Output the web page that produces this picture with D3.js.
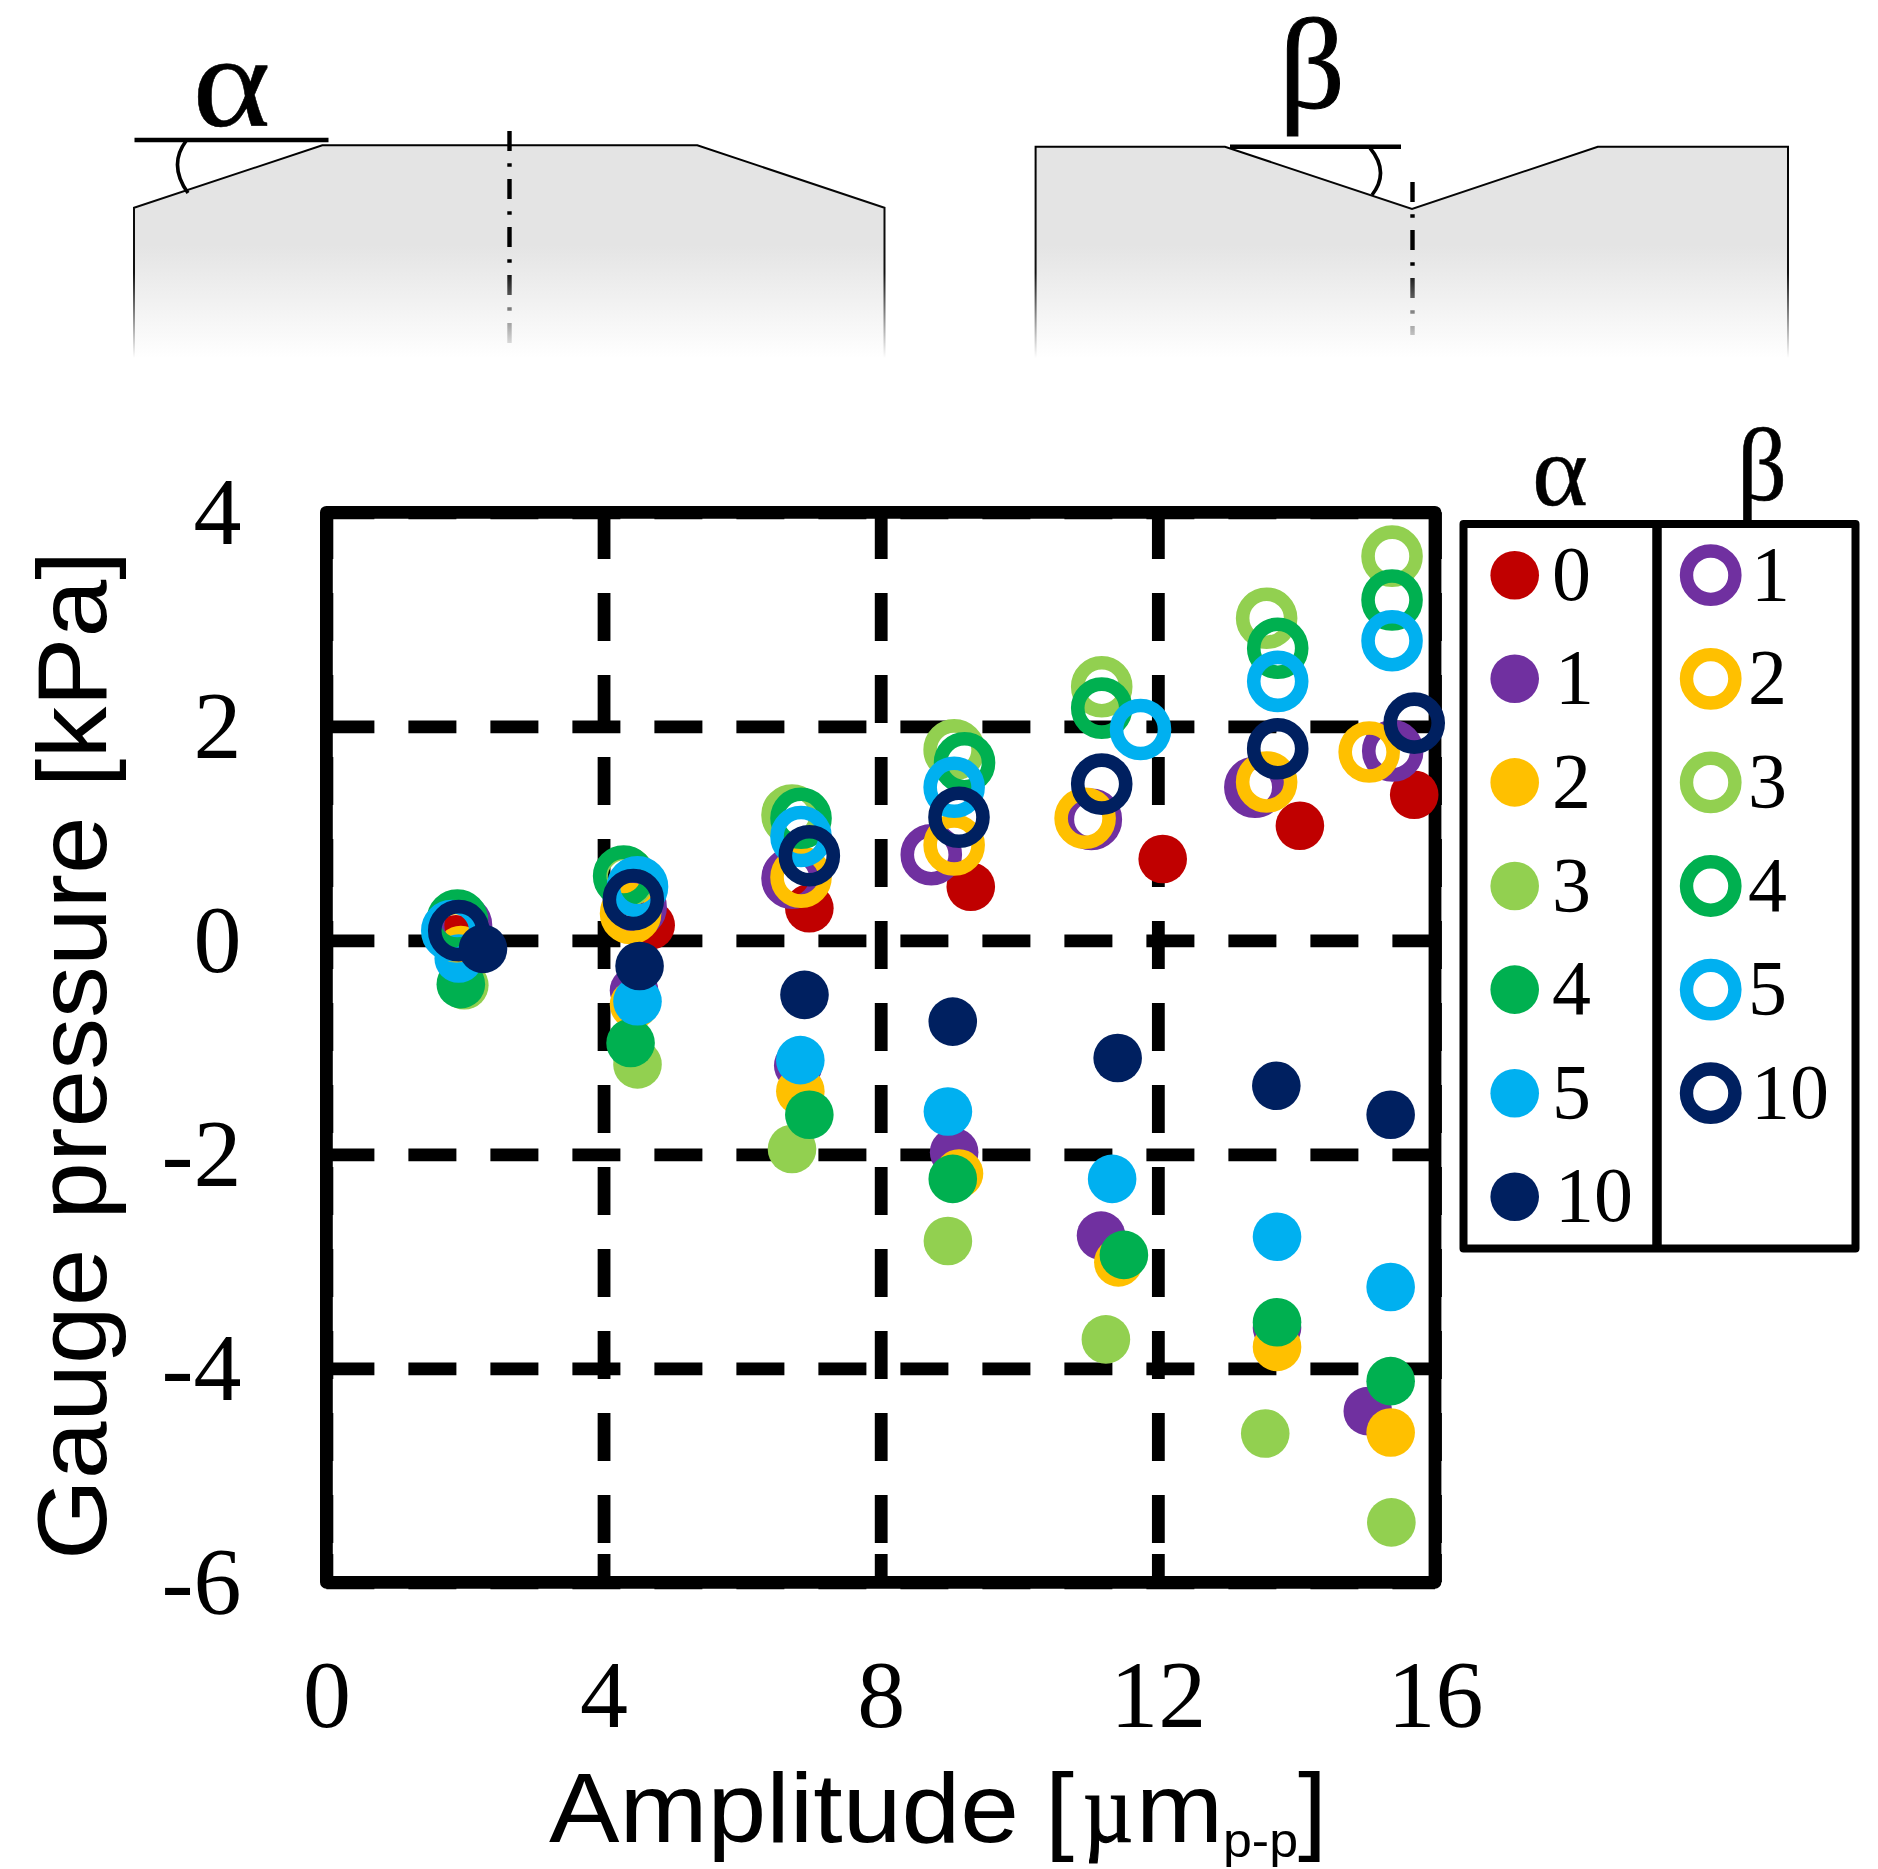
<!DOCTYPE html>
<html><head><meta charset="utf-8">
<script src="https://cdn.jsdelivr.net/npm/d3@7"></script>
<style>html,body{margin:0;padding:0;background:#fff}svg{display:block}</style>
</head><body><div id="chart"></div>
<script>
// ---- data ----
const xTickValues = [0, 4, 8, 12, 16];
const yTickValues = [4, 2, 0, -2, -4, -6];

const alpha0X  = [1.87, 4.68, 6.97, 9.30, 12.07, 14.05, 15.70];
const alpha0Y  = [0.01, 0.14, 0.30, 0.50, 0.76, 1.07, 1.36];
const alpha1X  = [1.97, 4.44, 6.81, 9.06, 11.18, 13.72, 15.03];
const alpha1Y  = [-0.10, -0.47, -1.17, -1.98, -2.76, -3.62, -4.40];
const alpha2X  = [1.94, 4.44, 6.84, 9.13, 11.43, 13.72, 15.36];
const alpha2Y  = [-0.09, -0.60, -1.41, -2.18, -3.01, -3.80, -4.60];
const alpha3X  = [1.99, 4.49, 6.72, 8.97, 11.25, 13.55, 15.37];
const alpha3Y  = [-0.42, -1.16, -1.95, -2.81, -3.73, -4.61, -5.44];
const alpha4X  = [1.94, 4.39, 6.97, 9.04, 11.51, 13.72, 15.36];
const alpha4Y  = [-0.41, -0.96, -1.63, -2.23, -2.94, -3.57, -4.12];
const alpha5X  = [1.91, 4.49, 6.84, 8.97, 11.34, 13.72, 15.36];
const alpha5Y  = [-0.17, -0.57, -1.12, -1.60, -2.23, -2.77, -3.24];
const alpha10X = [2.26, 4.52, 6.90, 9.04, 11.42, 13.71, 15.36];
const alpha10Y = [-0.08, -0.24, -0.51, -0.76, -1.10, -1.36, -1.63];

const beta1X  = [1.95, 4.47, 6.72, 8.73, 11.04, 13.40, 15.39];
const beta1Y  = [0.14, 0.31, 0.58, 0.80, 1.13, 1.43, 1.77];
const beta2X  = [1.88, 4.39, 6.85, 9.06, 10.95, 13.57, 15.05];
const beta2Y  = [0.08, 0.25, 0.59, 0.89, 1.14, 1.48, 1.76];
const beta3X  = [1.89, 4.31, 6.72, 9.06, 11.19, 13.57, 15.38];
const beta3Y  = [0.17, 0.59, 1.17, 1.78, 2.37, 3.01, 3.59];
const beta4X  = [1.89, 4.29, 6.85, 9.21, 11.19, 13.73, 15.38];
const beta4Y  = [0.19, 0.60, 1.14, 1.66, 2.17, 2.73, 3.18];
const beta5X  = [1.81, 4.49, 6.85, 9.06, 11.75, 13.73, 15.38];
const beta5Y  = [0.09, 0.50, 0.97, 1.43, 1.97, 2.42, 2.80];
const beta10X = [1.91, 4.43, 6.97, 9.13, 11.19, 13.73, 15.70];
const beta10Y = [0.09, 0.38, 0.79, 1.15, 1.46, 1.79, 2.03];

const alphaLabels = ["0", "1", "2", "3", "4", "5", "10"];
const betaLabels  = ["1", "2", "3", "4", "5", "10"];
const colors = {"0":"#c00000","1":"#7030a0","2":"#ffc000","3":"#92d050","4":"#00b050","5":"#00b0f0","10":"#002060"};
const alphaX = [alpha0X, alpha1X, alpha2X, alpha3X, alpha4X, alpha5X, alpha10X];
const alphaY = [alpha0Y, alpha1Y, alpha2Y, alpha3Y, alpha4Y, alpha5Y, alpha10Y];
const betaX  = [beta1X, beta2X, beta3X, beta4X, beta5X, beta10X];
const betaY  = [beta1Y, beta2Y, beta3Y, beta4Y, beta5Y, beta10Y];

// ---- setup ----
const SERIF = '"Liberation Serif","Times New Roman",serif';
const SANS  = '"Liberation Sans",Arial,sans-serif';
const svg = d3.select("#chart").append("svg").attr("width",1878).attr("height",1869).attr("viewBox","0 0 1878 1869");
const defs = svg.append("defs");
const L=326.4,R=1435,T=512.3,B=1582.3;
const x = d3.scaleLinear().domain([0,16]).range([L,R]);
const y = d3.scaleLinear().domain([-6,4]).range([B,T]);

function vGrad(id,y1,y2,stops){
  const g=defs.append("linearGradient").attr("id",id).attr("gradientUnits","userSpaceOnUse")
    .attr("x1",0).attr("x2",0).attr("y1",y1).attr("y2",y2);
  stops.forEach(s=>g.append("stop").attr("offset",s[0]).attr("stop-color",s[1]));
}
vGrad("shapeFill",145,358,[[0,"#e4e4e4"],[0.47,"#e4e4e4"],[0.75,"#f2f2f2"],[1,"#ffffff"]]);
vGrad("shapeStroke",145,358,[[0,"#000"],[0.6,"#111"],[0.8,"#888"],[1,"#fff"]]);
vGrad("axisStroke",125,345,[[0,"#000"],[0.65,"#000"],[0.8,"#666"],[1,"#ddd"]]);

// ---- top diagrams ----
const diagrams = svg.append("g");
const line = d3.line();
const shapeA=[[134,358],[134,207.7],[322.3,145.3],[697.3,145.3],[884.5,207.7],[884.5,358]];
const shapeB=[[1035.6,358],[1035.6,146.7],[1225,146.7],[1412,209],[1597.8,146.7],[1788,146.7],[1788,358]];
[shapeA,shapeB].forEach(p=>{
  diagrams.append("path").attr("d",line(p)+"Z").attr("fill","url(#shapeFill)").attr("stroke","none");
  diagrams.append("path").attr("d",line(p)).attr("fill","none").attr("stroke","url(#shapeStroke)").attr("stroke-width",2);
});
diagrams.append("path").attr("d","M509.5 131V343").attr("stroke","url(#axisStroke)");
diagrams.append("path").attr("d","M1412.5 182V335").attr("stroke","url(#axisStroke)");
diagrams.selectAll("path[stroke='url(#axisStroke)']").attr("stroke-width",4.4).attr("stroke-dasharray","20 12.3 3.4 12.3").attr("fill","none");
diagrams.append("path").attr("d","M134.5 140H328.5M1230 146.7H1401").attr("stroke","#000").attr("stroke-width",4.5);
diagrams.append("path").attr("d","M186 141Q168 165 188 193M1370 148Q1390 172 1372 195").attr("fill","none").attr("stroke","#000").attr("stroke-width",3.6);
diagrams.append("text").text("α").attr("x",192.5).attr("y",126).attr("font-family",SERIF).attr("font-size",132)
  .attr("textLength",78).attr("lengthAdjust","spacingAndGlyphs").attr("stroke","#000").attr("stroke-width",0.5);
diagrams.append("text").text("β").attr("x",1279).attr("y",108).attr("font-family",SERIF).attr("font-size",130)
  .attr("textLength",66).attr("lengthAdjust","spacingAndGlyphs").attr("stroke","#000").attr("stroke-width",1);

// ---- axes with grid ----
const chart = svg.append("g");
const yAxis = d3.axisLeft(y).tickValues(yTickValues).tickFormat(d=>String(d)).tickSizeInner(-(R-L)).tickSizeOuter(0).tickPadding(85);
const xAxis = d3.axisBottom(x).tickValues(xTickValues).tickFormat(d=>String(d)).tickSizeInner(-(B-T)).tickSizeOuter(0).tickPadding(76.5);
const gy = chart.append("g").attr("transform",`translate(${L},0)`).call(yAxis);
const gx = chart.append("g").attr("transform",`translate(0,${B})`).call(xAxis);
gx.selectAll(".tick line").attr("y1",-(B-T)).attr("y2",0);
const verticalDash = d3.range(12).map(()=>"48 34").join(" ")+" 48 11 70 0";
[gx,gy].forEach(g=>{
  g.select(".domain").remove();
  g.selectAll(".tick line").attr("stroke","#000").attr("stroke-width",12.8).attr("stroke-dasharray","48 34");
  g.selectAll(".tick text").attr("font-family",SERIF).attr("font-size",96).attr("fill","#000");
});
gx.selectAll(".tick line").attr("stroke-dasharray",verticalDash).attr("stroke-dashoffset",1.3);
gy.selectAll(".tick text").attr("dy","0.32em");
chart.append("rect").attr("x",L).attr("y",T).attr("width",R-L).attr("height",B-T)
  .attr("fill","none").attr("stroke","#000").attr("stroke-width",12.8).attr("stroke-linejoin","round");

// ---- axis titles ----
chart.append("text").text("Gauge pressure [kPa]").attr("transform","translate(106,1560) rotate(-90)")
  .attr("font-family",SANS).attr("font-size",98).attr("textLength",1009).attr("lengthAdjust","spacingAndGlyphs");
const titleParts=[
 {t:"Amplitude",x:549,y:1841.7,f:SANS,s:98,l:470,w:0},
 {t:"[",x:1045,y:1841.7,f:SANS,s:98,l:29,w:0},
 {t:"µ",x:1083,y:1841.7,f:SERIF,s:100,l:50,w:1.2},
 {t:"m",x:1136,y:1841.7,f:SANS,s:98,l:87,w:0},
 {t:"p-p",x:1223,y:1857,f:SANS,s:48,l:75,w:0},
 {t:"]",x:1298,y:1841.7,f:SANS,s:98,l:29,w:0}];
chart.selectAll("text.xt").data(titleParts).join("text").attr("class","xt").text(d=>d.t)
  .attr("x",d=>d.x).attr("y",d=>d.y).attr("font-family",d=>d.f).attr("font-size",d=>d.s)
  .attr("stroke","#000").attr("stroke-width",d=>d.w)
  .attr("textLength",d=>d.l).attr("lengthAdjust","spacingAndGlyphs");

// ---- marks: filled 0-5, then rings, then filled 10 ----
const marks = svg.append("g");
function zipped(xs,ys){return xs.map((v,i)=>[v,ys[i]]);}
function drawFill(i){
  marks.append("g").selectAll("circle").data(zipped(alphaX[i],alphaY[i])).join("circle")
    .attr("cx",d=>x(d[0])).attr("cy",d=>y(d[1])).attr("r",24.3).attr("fill",colors[alphaLabels[i]]);
}
function drawRing(i){
  marks.append("g").selectAll("circle").data(zipped(betaX[i],betaY[i])).join("circle")
    .attr("cx",d=>x(d[0])).attr("cy",d=>y(d[1])).attr("r",24).attr("fill","none")
    .attr("stroke",colors[betaLabels[i]]).attr("stroke-width",13.6);
}
d3.range(6).forEach(drawFill);
d3.range(6).forEach(drawRing);
drawFill(6);

// ---- legend ----
const legend = svg.append("g");
const rowY = d3.scalePoint().domain(d3.range(7)).range([575.2,1196.8]);
legend.append("rect").attr("x",1463.5).attr("y",524).attr("width",392).attr("height",724.5)
  .attr("fill","none").attr("stroke","#000").attr("stroke-width",8).attr("stroke-linejoin","round");
legend.append("path").attr("d","M1657 524V1248.5").attr("stroke","#000").attr("stroke-width",9.5);
legend.selectAll("circle.a").data(alphaLabels).join("circle").attr("class","a")
  .attr("cx",1514.7).attr("cy",(d,i)=>rowY(i)).attr("r",24.3).attr("fill",d=>colors[d]);
legend.selectAll("circle.b").data(betaLabels).join("circle").attr("class","b")
  .attr("cx",1710.7).attr("cy",(d,i)=>rowY(i)).attr("r",24.2).attr("fill","none").attr("stroke",d=>colors[d]).attr("stroke-width",13.4);
const labelShift = d => d[0]==="1" ? 3 : 0;
legend.selectAll("text.a").data(alphaLabels).join("text").attr("class","a").text(d=>d)
  .attr("x",d=>1552+labelShift(d)).attr("y",(d,i)=>rowY(i)+24.5).attr("font-family",SERIF).attr("font-size",78);
legend.selectAll("text.b").data(betaLabels).join("text").attr("class","b").text(d=>d)
  .attr("x",d=>1748+labelShift(d)).attr("y",(d,i)=>rowY(i)+24.5).attr("font-family",SERIF).attr("font-size",78);
legend.append("text").text("α").attr("x",1532).attr("y",505).attr("font-family",SERIF).attr("font-size",102)
  .attr("textLength",56).attr("lengthAdjust","spacingAndGlyphs").attr("stroke","#000").attr("stroke-width",0.4);
legend.append("text").text("β").attr("x",1737).attr("y",500).attr("font-family",SERIF).attr("font-size",104)
  .attr("textLength",50).attr("lengthAdjust","spacingAndGlyphs").attr("stroke","#000").attr("stroke-width",0.6);
</script></body></html>
